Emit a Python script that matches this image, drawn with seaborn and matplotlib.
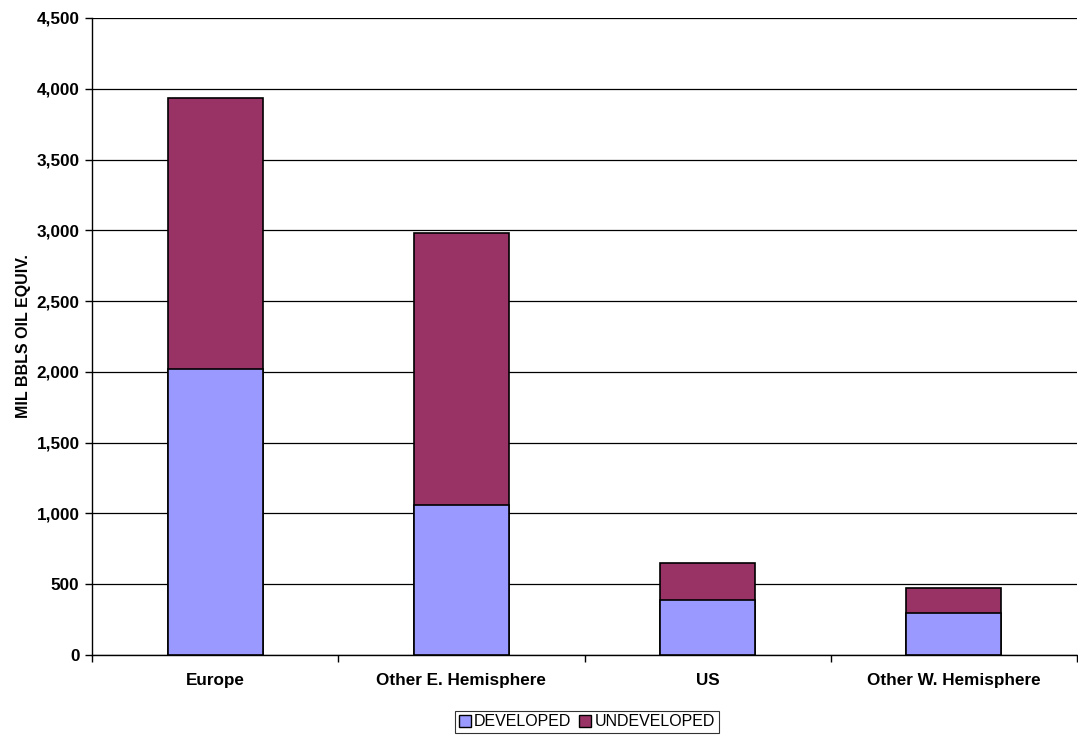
import matplotlib
matplotlib.use("Agg")
import matplotlib.pyplot as plt
import seaborn as sns
import pandas as pd
import numpy as np
from matplotlib.patches import Patch
from matplotlib.ticker import FuncFormatter, MultipleLocator

categories = ["Europe", "Other E. Hemisphere", "US", "Other W. Hemisphere"]
developed = [2018, 1057, 389, 298]
undeveloped = [1918, 1927, 261, 177]
series_names = ["DEVELOPED", "UNDEVELOPED"]
colors = ["#9999FF", "#993366"]

sns.set_theme(style="white")
plt.rcParams["font.family"] = ["Liberation Sans", "DejaVu Sans"]
plt.rcParams.update({"text.color": "black", "axes.labelcolor": "black",
                     "xtick.color": "black", "ytick.color": "black"})

totals = [d + u for d, u in zip(developed, undeveloped)]
df = pd.DataFrame({"cat": categories, "dev": developed, "tot": totals})

fig = plt.figure(figsize=(10.78, 7.35), dpi=100)
ax = fig.add_axes([92 / 1078, 1 - 655 / 735, (1077 - 92) / 1078, (655 - 18) / 735])

sns.barplot(data=df, x="cat", y="tot", color=colors[1], saturation=1, width=0.385,
            edgecolor="black", linewidth=1.2, ax=ax, zorder=3)
sns.barplot(data=df, x="cat", y="dev", color=colors[0], saturation=1, width=0.385,
            edgecolor="black", linewidth=1.2, ax=ax, zorder=4)

ax.set_ylim(0, 4500)
ax.set_xlim(-0.5, 3.5)
ax.yaxis.set_major_locator(MultipleLocator(500))
ax.yaxis.set_major_formatter(FuncFormatter(lambda v, p: f"{int(v):,}"))
ax.grid(axis="y", color="black", linewidth=0.9, zorder=0)
ax.set_axisbelow(True)

for s in ["top", "right"]:
    ax.spines[s].set_visible(False)
for s in ["left", "bottom"]:
    ax.spines[s].set_color("black")
    ax.spines[s].set_linewidth(1.0)

ax.set_xticks(range(len(categories)))
ax.set_xticklabels(categories, fontsize=12.3, fontweight="bold", color="black")
ax.set_xticks(np.arange(-0.5, 4.0, 1.0), minor=True)
ax.tick_params(axis="x", which="major", length=0, pad=13)
ax.tick_params(axis="x", which="minor", length=5, width=1, color="black", direction="out", bottom=True)
ax.tick_params(axis="y", which="major", length=5, width=1, color="black", direction="out", left=True,
               labelsize=12.3, pad=4, labelcolor="black")
for t in ax.get_yticklabels():
    t.set_fontweight("bold")

ax.set_xlabel("")
ax.set_ylabel("MIL BBLS OIL EQUIV.", fontsize=11.5, fontweight="bold", labelpad=4, color="black")

handles = [Patch(facecolor=c, edgecolor="black", label=n) for c, n in zip(colors, series_names)]
leg = fig.legend(handles=handles, loc="center", bbox_to_anchor=(587 / 1078, 1 - 722 / 735), ncol=2,
                 frameon=True, fancybox=False, fontsize=11.5, handlelength=0.75, handleheight=0.75,
                 handletextpad=0.2, columnspacing=0.5, borderpad=0.25, borderaxespad=0, labelcolor="black")
leg.get_frame().set_edgecolor("black")
leg.get_frame().set_linewidth(0.8)

fig.savefig("out.png", dpi=100)
